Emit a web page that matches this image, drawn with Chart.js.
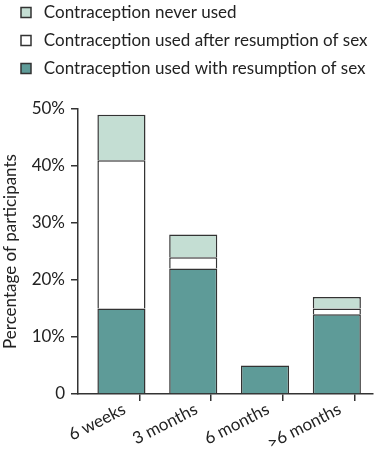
<!DOCTYPE html>
<html>
<head>
<meta charset="utf-8">
<script src="https://cdn.jsdelivr.net/npm/chart.js@4/dist/chart.umd.min.js"></script>
<style>
  html, body { margin: 0; padding: 0; background: #ffffff; }
  #wrap { position: relative; width: 380px; height: 459px; }
</style>
</head>
<body>
<div id="wrap"><canvas id="c" width="380" height="459"></canvas></div>
<script>
// ---- data ----
const categories = ["6 weeks", "3 months", "6 months", ">6 months"];
const usedWithResumption = [15, 22, 5, 14];
const usedAfterResumption = [26, 2, 0, 1];
const neverUsed = [8, 4, 0, 2];
const seriesNames = [
  "Contraception used with resumption of sex",
  "Contraception used after resumption of sex",
  "Contraception never used"
];
const yTickValues = [0, 10, 20, 30, 40, 50];
const yTitle = "Percentage of participants";

// ---- styling ----
const FONT = "Lato, 'Noto Sans', sans-serif";
const TEXT = "#222222";
const LINE = "#333333";
const colTeal = "#5e9b98";
const colWhite = "#ffffff";
const colLight = "#c4ded3";

function toPoints(arr) {
  return arr.map((v, i) => ({ x: i, y: v === 0 ? null : v }));
}

// x ticks: left edge, category centres and boundaries
const xLeft = -0.605, xRight = 3.5;
const xTickVals = [xLeft];
categories.forEach((c, i) => { xTickVals.push(i); xTickVals.push(i + 0.5); });

const legendShift = {
  id: 'legendShift',
  afterLayout(chart) {
    chart.legend.top -= 22;
    chart.legend.left += 10;
  }
};

new Chart(document.getElementById('c'), {
  type: 'bar',
  data: {
    datasets: [
      { label: seriesNames[0], data: toPoints(usedWithResumption), backgroundColor: colTeal },
      { label: seriesNames[1], data: toPoints(usedAfterResumption), backgroundColor: colWhite },
      { label: seriesNames[2], data: toPoints(neverUsed), backgroundColor: colLight }
    ].map(d => Object.assign(d, {
      borderColor: LINE,
      borderWidth: { top: 1.5, left: 1.5, right: 1.5, bottom: 0 },
      borderSkipped: false,
      barPercentage: 1.34, categoryPercentage: 1
    }))
  },
  options: {
    responsive: false,
    animation: false,
    devicePixelRatio: 1,
    layout: { padding: { top: 15, left: 0, right: 0, bottom: 0 } },
    plugins: {
      tooltip: { enabled: false },
      legend: {
        display: true,
        position: 'top',
        align: 'start',
        reverse: true,
        labels: {
          boxWidth: 10, boxHeight: 10, padding: 11,
          color: TEXT,
          font: { family: FONT, size: 17 },
          generateLabels(chart) {
            const items = Chart.defaults.plugins.legend.labels.generateLabels(chart);
            items.forEach(it => { it.text = ' ' + it.text; it.lineWidth = 1.5; it.strokeStyle = LINE; });
            return items;
          }
        }
      }
    },
    scales: {
      x: {
        type: 'linear',
        stacked: true,
        min: xLeft, max: xRight,
        offset: false,
        afterBuildTicks(scale) { scale.ticks = xTickVals.map(v => ({ value: v })); },
        afterFit(scale) { scale.height = 65; },
        border: { display: true, color: LINE, width: 1.5 },
        grid: {
          display: true, drawOnChartArea: false, drawTicks: true, tickLength: 7,
          lineWidth: 1.5,
          tickColor: (ctx) => {
            const t = ctx && ctx.tick;
            if (!t) return LINE;
            return Number.isInteger(t.value) ? 'rgba(0,0,0,0)' : LINE;
          },
          color: 'rgba(0,0,0,0)'
        },
        ticks: {
          autoSkip: false,
          minRotation: 27, maxRotation: 27,
          padding: -2,
          labelOffset: 3,
          color: TEXT,
          font: { family: FONT, size: 17 },
          callback: (v) => (Number.isInteger(v) && v >= 0 && v < categories.length ? categories[v] : '')
        }
      },
      y: {
        stacked: true,
        min: 0, max: 50,
        afterBuildTicks(scale) { scale.ticks = yTickValues.map(v => ({ value: v })); },
        afterFit(scale) { scale.width = 78; },
        border: { display: true, color: LINE, width: 1.5 },
        grid: {
          display: true, drawOnChartArea: false, drawTicks: true, tickLength: 7,
          lineWidth: 1.5, tickColor: LINE
        },
        ticks: {
          padding: 6,
          color: TEXT,
          font: { family: FONT, size: 17 },
          callback: (v) => (v === 0 ? '0' : v + '%')
        },
        title: {
          display: true,
          text: yTitle,
          color: TEXT,
          font: { family: FONT, size: 17 },
          padding: { top: 0, bottom: 0 }
        }
      }
    }
  },
  plugins: [legendShift]
});
</script>
</body>
</html>
